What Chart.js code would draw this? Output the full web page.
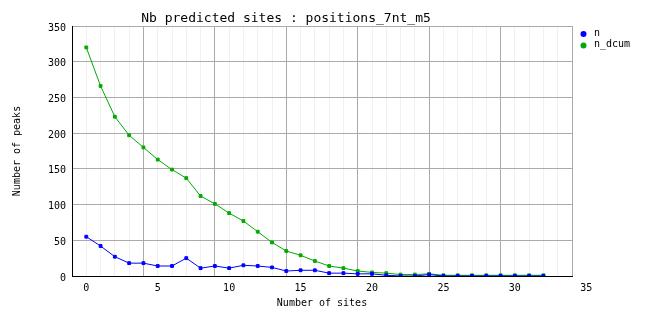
<!DOCTYPE html>
<html>
<head>
<meta charset="utf-8">
<script src="https://cdn.jsdelivr.net/npm/chart.js@4/dist/chart.umd.min.js"></script>
<style>
  html, body { margin: 0; padding: 0; background: #ffffff; }
  #wrap { width: 662px; height: 328px; }
</style>
</head>
<body>
<div id="wrap"><canvas id="c" width="662" height="328"></canvas></div>
<script>
// ---- data ----
const sites = [0,1,2,3,4,5,6,7,8,9,10,11,12,13,14,15,16,17,18,19,20,21,22,23,24,25,26,27,28,29,30,31,32];
const nValues = [55,42,27,18,18,14,14,25,11,14,11,15,14,12,7,8,8,4,4,3,3,1,0,0,2,0,0,0,0,0,0,0,0];
const nDcumValues = [320,266,223,197,180,163,149,137,112,101,88,77,62,47,35,29,21,14,11,7,5,4,2,2,3,1,1,1,1,1,1,1,1];
const xTickLabels = ['0','5','10','15','20','25','30','35'];
const yTickValues = [0,50,100,150,200,250,300,350];
const seriesNames = ['n', 'n_dcum'];
const seriesColors = ['#0000ff', '#00aa00'];

const MONO = '"DejaVu Sans Mono", "Liberation Mono", monospace';

function toXY(values) {
  return sites.map((s, i) => ({ x: s, y: values[i] }));
}

const legendPlugin = {
  id: 'sideLegend',
  afterDraw(chart) {
    const ctx = chart.ctx;
    ctx.save();
    chart.data.datasets.forEach((ds, i) => {
      const y = 34 + i * 11.5;
      ctx.fillStyle = ds.borderColor;
      ctx.beginPath();
      ctx.arc(583.5, y, 3, 0, Math.PI * 2);
      ctx.fill();
      ctx.fillStyle = '#000000';
      ctx.font = '10px ' + MONO;
      ctx.textBaseline = 'middle';
      ctx.textAlign = 'left';
      ctx.fillText(ds.label, 594, y - 1);
    });
    ctx.restore();
  }
};

new Chart(document.getElementById('c'), {
  type: 'line',
  data: {
    datasets: [
      {
        label: seriesNames[0],
        data: toXY(nValues),
        borderColor: seriesColors[0],
        backgroundColor: seriesColors[0],
        borderWidth: 1,
        pointStyle: 'rect',
        pointRadius: 2,
        pointBorderWidth: 1,
        tension: 0,
        fill: false
      },
      {
        label: seriesNames[1],
        data: toXY(nDcumValues),
        borderColor: seriesColors[1],
        backgroundColor: seriesColors[1],
        borderWidth: 1,
        pointStyle: 'rect',
        pointRadius: 2,
        pointBorderWidth: 1,
        tension: 0,
        fill: false
      }
    ]
  },
  options: {
    responsive: false,
    animation: false,
    devicePixelRatio: 1,
    layout: { padding: { left: 0, right: 90, top: 0, bottom: 0 } },
    plugins: {
      legend: { display: false },
      tooltip: { enabled: false },
      title: {
        display: true,
        text: 'Nb predicted sites : positions_7nt_m5',
        color: '#000000',
        font: { family: MONO, size: 13, weight: 'normal', lineHeight: '15px' },
        padding: { top: 11, bottom: 0 }
      }
    },
    scales: {
      x: {
        type: 'linear',
        min: -1,
        max: 34,
        afterBuildTicks(scale) {
          const t = [];
          for (let v = -1; v <= 35; v++) t.push({ value: v });
          scale.ticks = t;
        },
        afterFit(scale) { scale.height = 52; },
        ticks: {
          autoSkip: false,
          maxRotation: 0,
          minRotation: 0,
          padding: 6,
          color: '#000000',
          font: { family: MONO, size: 10 },
          callback: (v) => xTickLabels.includes(String(v)) ? String(v) : ''
        },
        grid: {
          drawTicks: false,
          lineWidth: 1,
          color: (ctx) => {
            const v = ctx.tick ? ctx.tick.value : 0;
            if (v <= -1 || v > 34) return 'rgba(0,0,0,0)';
            return ((v + 1) % 5 === 0) ? '#aaaaaa' : '#f0f0f0';
          }
        },
        border: { display: true, color: '#000000', width: 1 },
        title: {
          display: true,
          text: 'Number of sites',
          color: '#000000',
          font: { family: MONO, size: 10, lineHeight: 1.2 },
          padding: { top: 0, bottom: 19 }
        }
      },
      y: {
        min: 0,
        max: 350,
        afterBuildTicks(scale) {
          scale.ticks = yTickValues.map(v => ({ value: v }));
        },
        afterFit(scale) { scale.width = 72; },
        ticks: {
          padding: 6,
          labelOffset: 2,
          color: '#000000',
          font: { family: MONO, size: 10 }
        },
        grid: {
          drawTicks: false,
          lineWidth: 1,
          color: (ctx) => (ctx.tick && ctx.tick.value === 0) ? 'rgba(0,0,0,0)' : '#aaaaaa'
        },
        border: { display: true, color: '#000000', width: 1 },
        title: {
          display: true,
          text: 'Number of peaks',
          color: '#000000',
          font: { family: MONO, size: 10, lineHeight: 1.2 },
          padding: { top: 11, bottom: 0 }
        }
      }
    }
  },
  plugins: [legendPlugin]
});
</script>
</body>
</html>
